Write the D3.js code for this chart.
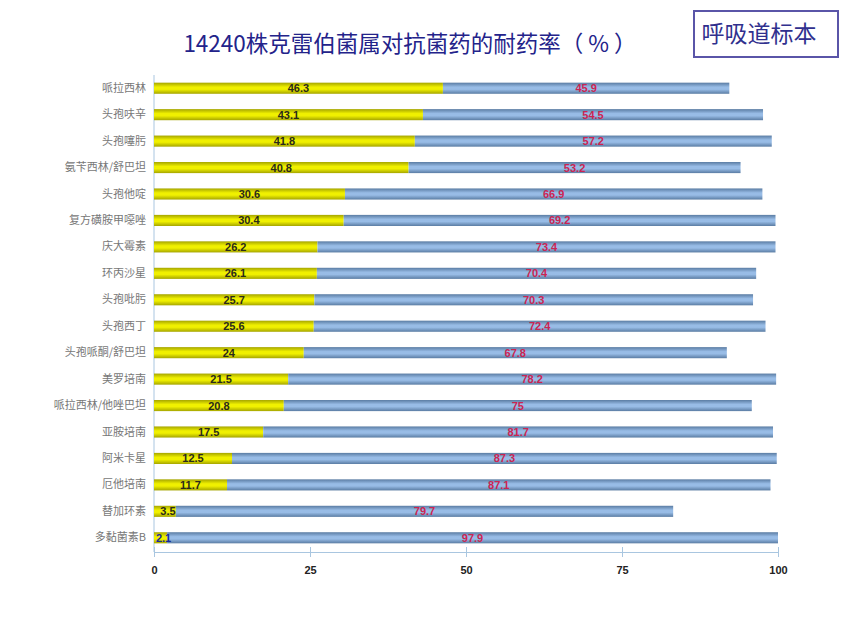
<!DOCTYPE html>
<html><head><meta charset="utf-8">
<script src="https://cdn.jsdelivr.net/npm/d3@7"></script>
<style>body{margin:0;background:#fff}</style>
</head><body>
<svg id="c" width="848" height="629"></svg>
<script>
const categories = ["哌拉西林","头孢呋辛","头孢噻肟","氨苄西林/舒巴坦","头孢他啶","复方磺胺甲噁唑","庆大霉素","环丙沙星","头孢吡肟","头孢西丁","头孢哌酮/舒巴坦","美罗培南","哌拉西林/他唑巴坦","亚胺培南","阿米卡星","厄他培南","替加环素","多黏菌素B"];
const susceptible = [46.3,43.1,41.8,40.8,30.6,30.4,26.2,26.1,25.7,25.6,24,21.5,20.8,17.5,12.5,11.7,3.5,2.1];
const resistant = [45.9,54.5,57.2,53.2,66.9,69.2,73.4,70.4,70.3,72.4,67.8,78.2,75,81.7,87.3,87.1,79.7,97.9];
const xTicks = [0,25,50,75,100];
const title = "14240株克雷伯菌属对抗菌药的耐药率（ % ）";
const boxText = "呼吸道标本";

const svg = d3.select("#c");
const x = d3.scaleLinear().domain([0,100]).range([154,778]);
const y = d3.scaleBand().domain(categories).range([75,551]).paddingInner(0.58).paddingOuter(0.29);

const defs = svg.append("defs");
function grad(id, edge, mid){
  const g = defs.append("linearGradient").attr("id",id).attr("x1",0).attr("y1",0).attr("x2",0).attr("y2",1);
  g.append("stop").attr("offset","0%").attr("stop-color",edge);
  g.append("stop").attr("offset","40%").attr("stop-color",mid);
  g.append("stop").attr("offset","60%").attr("stop-color",mid);
  g.append("stop").attr("offset","100%").attr("stop-color",edge);
}
grad("gy","#a5a500","#f0f000");
grad("gb","#5a7ca3","#98bce6");

// title
svg.append("text").attr("x",410).attr("y",52).attr("text-anchor","middle")
  .attr("font-family","'Noto Sans CJK SC',sans-serif").attr("font-size",22.5)
  .attr("fill","#23238a").text(title);
// box
svg.append("rect").attr("x",694).attr("y",11).attr("width",144).attr("height",46)
  .attr("fill","#fff").attr("stroke","#5a55a8").attr("stroke-width",2);
svg.append("text").attr("x",759).attr("y",42).attr("text-anchor","middle")
  .attr("font-family","'Noto Sans CJK SC',sans-serif").attr("font-size",23)
  .attr("fill","#30308e").text(boxText);

// axes
const gx = svg.append("g").attr("transform","translate(0,552)")
  .call(d3.axisBottom(x).tickValues(xTicks).tickSize(0).tickPadding(14));
gx.select(".domain").attr("stroke","#a9c6e0");
gx.selectAll("text").attr("font-family","'Liberation Sans Narrow','Liberation Sans',sans-serif")
  .attr("font-size",11).attr("font-weight","bold").attr("fill","#222");
gx.selectAll(".tick").append("line").attr("y1",-5).attr("y2",5).attr("stroke","#a9c6e0");

const gy = svg.append("g").attr("transform","translate(154,0)")
  .call(d3.axisLeft(y).tickSize(0).tickPadding(8));
gy.select(".domain").attr("stroke","#a9c6e0").attr("d","M0,75V552");
gy.selectAll("text").attr("font-family","'Noto Sans CJK SC',sans-serif")
  .attr("font-size",11).attr("fill","#777");

// bars
const rows = categories.map((c,i)=>({c, s:susceptible[i], r:resistant[i]}));
const g = svg.append("g");
g.selectAll(".ys").data(rows).join("rect")
  .attr("x",d=>x(0)).attr("y",d=>y(d.c)).attr("width",d=>x(d.s)-x(0)).attr("height",y.bandwidth())
  .attr("fill","url(#gy)");
g.selectAll(".bs").data(rows).join("rect")
  .attr("x",d=>x(d.s)).attr("y",d=>y(d.c)).attr("width",d=>x(d.s+d.r)-x(d.s)).attr("height",y.bandwidth())
  .attr("fill","url(#gb)");
g.selectAll(".yl").data(rows).join("text")
  .attr("x",d=>x(d.s/2)+ (d.s<5?3:0)).attr("y",d=>y(d.c)+y.bandwidth()/2).attr("dy","0.36em")
  .attr("text-anchor","middle").attr("font-family","'Liberation Sans Narrow','Liberation Sans',sans-serif")
  .attr("font-size",11).attr("font-weight","bold").attr("fill",(d,i)=>i===rows.length-1?"#1a2a9a":"#2a2a1a")
  .text(d=>d.s);
g.selectAll(".rl").data(rows).join("text")
  .attr("x",d=>x(d.s+d.r/2)).attr("y",d=>y(d.c)+y.bandwidth()/2).attr("dy","0.36em")
  .attr("text-anchor","middle").attr("font-family","'Liberation Sans Narrow','Liberation Sans',sans-serif")
  .attr("font-size",11).attr("font-weight","bold").attr("fill","#cc2452")
  .text(d=>d.r);
</script>
</body></html>
